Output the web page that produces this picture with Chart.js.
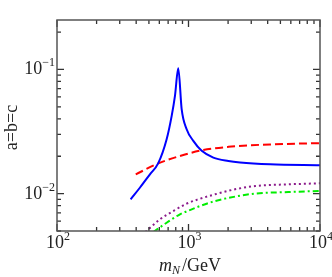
<!DOCTYPE html>
<html>
<head>
<meta charset="utf-8">
<script src="https://cdn.jsdelivr.net/npm/chart.js@4/dist/chart.umd.min.js"></script>
<style>
  html, body { margin: 0; padding: 0; background: #fff; }
  canvas { display: block; }
</style>
</head>
<body>
<canvas id="chart" width="332" height="277"></canvas>
<script>
// values (m_N in GeV, coupling a=b=c)
const blueX = [363, 428, 509, 589, 682, 745, 789, 836, 887, 968, 1088, 1260, 1545, 2010, 2466, 4170, 10000];
const blueY = [0.0090, 0.0112, 0.0143, 0.0176, 0.0274, 0.0423, 0.0612, 0.102, 0.0479, 0.0330, 0.0266, 0.0221, 0.0195, 0.0183, 0.0178, 0.0172, 0.0169];

const redX = [397, 589, 850, 1260, 2010, 3000, 4170, 10000];
const redY = [0.0143, 0.0175, 0.0200, 0.0223, 0.0238, 0.0245, 0.0249, 0.0255];

const purpleX = [470, 494, 607, 766, 968, 1188, 1591, 2260, 3207, 5745, 10000];
const purpleY = [0.0049, 0.00515, 0.00621, 0.00724, 0.0083, 0.0090, 0.00987, 0.01083, 0.01151, 0.01188, 0.0121];

const greenX = [540, 682, 861, 1057, 1222, 1591, 2260, 3207, 5745, 10000];
const greenY = [0.0049, 0.00583, 0.00681, 0.00747, 0.00794, 0.00871, 0.00946, 0.0100, 0.0103, 0.0105];

// tick values
const xMajor = [100, 1000, 10000];
const xMajorExp = ['2', '3', '4'];
const xMinor = [200, 300, 400, 500, 600, 700, 800, 900, 2000, 3000, 4000, 5000, 6000, 7000, 8000, 9000];
const yMajor = [0.1, 0.01];
const yMajorExp = ['\u22121', '\u22122'];
const yMinor = [0.2, 0.09, 0.08, 0.07, 0.06, 0.05, 0.04, 0.03, 0.02, 0.009, 0.008, 0.007, 0.006, 0.005];

const zip = (xs, ys) => xs.map((x, i) => ({ x, y: ys[i] }));

const FONT = '"Liberation Serif", "DejaVu Serif", serif';

// draws "10" with a superscript exponent; align is where the whole label goes
const drawPow = (ctx, exp, x, y, align) => {
  ctx.font = `18px ${FONT}`;
  const wb = ctx.measureText('10').width;
  ctx.font = `12px ${FONT}`;
  const we = ctx.measureText(exp).width;
  const w = wb + we;
  let x0 = x;
  if (align === 'center') x0 = x - w / 2;
  if (align === 'right') x0 = x - w;
  ctx.textAlign = 'left';
  ctx.textBaseline = 'alphabetic';
  ctx.font = `18px ${FONT}`;
  ctx.fillText('10', x0, y);
  ctx.font = `12px ${FONT}`;
  ctx.fillText(exp, x0 + wb, y - 8);
};

// inward ticks on all four sides, stroked right after the lines
const ticks = {
  id: 'inTicks',
  afterDatasetsDraw(chart) {
    const ctx = chart.ctx;
    const area = chart.chartArea;
    const sx = chart.scales.x;
    const sy = chart.scales.y;
    ctx.save();
    ctx.setLineDash([]);
    ctx.globalAlpha = 1;
    ctx.globalCompositeOperation = 'source-over';
    ctx.strokeStyle = '#333';
    ctx.lineWidth = 1.3;
    ctx.beginPath();
    const vt = (v, len) => {
      const px = sx.getPixelForValue(v);
      ctx.moveTo(px, area.bottom);
      ctx.lineTo(px, area.bottom - len);
      ctx.moveTo(px, area.top);
      ctx.lineTo(px, area.top + len);
    };
    const ht = (v, len) => {
      const py = sy.getPixelForValue(v);
      ctx.moveTo(area.left, py);
      ctx.lineTo(area.left + len, py);
      ctx.moveTo(area.right, py);
      ctx.lineTo(area.right - len, py);
    };
    xMajor.forEach(v => vt(v, 7));
    xMinor.forEach(v => vt(v, 4));
    yMajor.forEach(v => ht(v, 7));
    yMinor.forEach(v => ht(v, 4));
    ctx.stroke();
    ctx.restore();
  },
};

const frame = {
  id: 'frame',
  afterDraw(chart) {
    const { ctx, chartArea, scales } = chart;
    const { left, right, top, bottom } = chartArea;
    const xs = scales.x;
    const ys = scales.y;
    ctx.save();
    ctx.setLineDash([]);
    ctx.strokeStyle = '#555';
    ctx.lineWidth = 1.5;
    ctx.strokeRect(left, top, right - left, bottom - top);

    ctx.fillStyle = '#222';
    xMajor.forEach((v, i) => drawPow(ctx, xMajorExp[i], xs.getPixelForValue(v) + 1, bottom + 17, 'center'));
    yMajor.forEach((v, i) => drawPow(ctx, yMajorExp[i], left - 2, ys.getPixelForValue(v) + 5, 'right'));

    // x axis title: m_N/GeV
    ctx.textBaseline = 'alphabetic';
    ctx.textAlign = 'left';
    ctx.font = `italic 18px ${FONT}`;
    const wm = ctx.measureText('m').width;
    ctx.font = `italic 12px ${FONT}`;
    const wn = ctx.measureText('N').width;
    ctx.font = `18px ${FONT}`;
    const wg = ctx.measureText('/GeV').width;
    let tx = 190 - (wm + wn + 2 + wg) / 2;
    const ty = 271;
    ctx.font = `italic 18px ${FONT}`;
    ctx.fillText('m', tx, ty);
    tx += wm;
    ctx.font = `italic 12px ${FONT}`;
    ctx.fillText('N', tx, ty + 3);
    tx += wn + 2;
    ctx.font = `18px ${FONT}`;
    ctx.fillText('/GeV', tx, ty);

    // y axis title
    ctx.save();
    ctx.translate(17, (top + bottom) / 2 + 2);
    ctx.rotate(-Math.PI / 2);
    ctx.textAlign = 'center';
    ctx.font = `18px ${FONT}`;
    ctx.fillText('a=b=c', 0, 0);
    ctx.restore();

    ctx.restore();
  },
};

const line = (data, color, dash) => ({
  data,
  borderColor: color,
  borderWidth: 2,
  borderDash: dash,
  pointRadius: 0,
  fill: false,
  cubicInterpolationMode: 'monotone',
});

new Chart(document.getElementById('chart'), {
  type: 'line',
  data: {
    datasets: [
      line(zip(blueX, blueY), '#0000ff', []),
      line(zip(redX, redY), '#ff0000', [8, 4]),
      line(zip(purpleX, purpleY), '#8b1a8b', [2, 3]),
      line(zip(greenX, greenY), '#00ee00', [6, 3, 2, 3]),
    ],
  },
  options: {
    responsive: false,
    animation: false,
    devicePixelRatio: 1,
    layout: { padding: { left: 57, right: 12, top: 20, bottom: 46 } },
    plugins: { legend: { display: false }, tooltip: { enabled: false } },
    scales: {
      x: { type: 'logarithmic', min: 100, max: 10000, display: false },
      y: { type: 'logarithmic', min: 0.005, max: 0.25, display: false },
    },
  },
  plugins: [ticks, frame],
});
</script>
</body>
</html>
